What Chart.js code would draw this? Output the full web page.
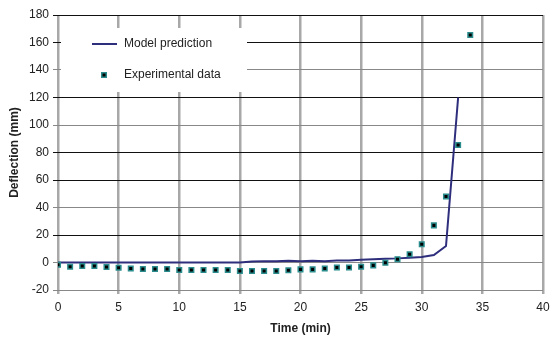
<!DOCTYPE html>
<html>
<head>
<meta charset="utf-8">
<script src="https://cdn.jsdelivr.net/npm/chart.js@4/dist/chart.umd.min.js"></script>
<style>
	html, body { margin: 0; padding: 0; background: white; }
	#wrap { width: 550px; height: 338px; position: relative; }
</style>
</head>
<body>
<div id="wrap"><canvas id="myChart"></canvas></div>
<script>
Chart.defaults.color = '#222';
Chart.defaults.font.family = "'Liberation Sans', Arial, sans-serif";
Chart.defaults.font.size = 12;


// DATA
// ================================================================
var modelTime = [0, 15, 16, 17, 18, 19, 20, 21, 22, 23, 24, 25, 26, 27, 28, 29, 30, 31, 32, 33];
var modelDefl = [0, 0, 0.8, 1, 1, 1.2, 1, 1.3, 1, 1.5, 1.5, 2, 2.4, 2.8, 3, 3.5, 4, 5.5, 12, 120];

var expTime = [0, 1, 2, 3, 4, 5, 6, 7, 8, 9, 10, 11, 12, 13, 14, 15, 16, 17, 18,
	19, 20, 21, 22, 23, 24, 25, 26, 27, 28, 29, 30, 31, 32, 33, 34];
var expDefl = [-1.7, -3.1, -2.6, -2.6, -3.3, -3.8, -4.3, -4.8, -4.8, -4.8, -5.5, -5.5, -5.5, -5.5, -5.5, -6.2, -6.2, -6.2, -6.2,
	-5.7, -5, -5, -4.3, -3.6, -3.6, -3.1, -2.1, -0.2, 2.4, 6, 13.3, 27, 48, 85.5, 165.5];

var seriesNames = ['Model prediction', 'Experimental data'];

// dark / light look of the horizontal grid lines, top to bottom
var darkRows = [180, 160, 120, 80, 60, 20];

function pairs(xs, ys) {
	return xs.map(function (x, i) { return { x: x, y: ys[i] }; });
}

var data = {
	datasets: [
		{
			type: 'line',
			label: seriesNames[0],
			data: pairs(modelTime, modelDefl),
			borderColor: '#2e2e7c',
			borderWidth: 2,
			pointRadius: 0,
			tension: 0,
			order: 2
		},
		{
			type: 'scatter',
			label: seriesNames[1],
			data: pairs(expTime, expDefl),
			pointStyle: 'rect',
			pointRadius: 3.2,
			backgroundColor: '#000',
			borderColor: '#2a8c8c',
			borderWidth: 1.5,
			order: 1
		}
	]
};


// Plugins
// ================================================================
// legend sits inside the plot area on a white box, like the Excel one
var boxLegend = {
	id: 'boxLegend',
	afterDatasetsDraw: function (chart) {
		var c = chart.ctx;
		var ds = chart.data.datasets;
		c.save();
		c.fillStyle = 'white';
		c.fillRect(61, 28, 186, 64);

		c.font = "12px 'Liberation Sans', Arial, sans-serif";
		c.textBaseline = 'middle';
		c.fillStyle = '#222';

		// line item
		c.strokeStyle = ds[0].borderColor;
		c.lineWidth = 2;
		c.beginPath();
		c.moveTo(92, 44);
		c.lineTo(117, 44);
		c.stroke();
		c.fillText(ds[0].label, 124, 44);

		// marker item
		c.fillStyle = ds[1].borderColor;
		c.fillRect(101, 72, 6, 6);
		c.fillStyle = '#000';
		c.fillRect(102.5, 73.5, 3, 3);
		c.fillStyle = '#222';
		c.fillText(ds[1].label, 124, 75);
		c.restore();
	}
};

var Plugins = {
	legend: { display: false },
	tooltip: { enabled: false }
};


// OPTIONS
// ================================================================
var options = {
	responsive: true,
	maintainAspectRatio: false,
	animation: false,
	plugins: Plugins,
	layout: { padding: { top: 15, right: 0, left: 7, bottom: 0 } },

	scales: {
		x: {
			type: 'linear',
			min: 0,
			max: 40,
			title: {
				display: true,
				text: 'Time (min)',
				font: { weight: 'bold', size: 12 },
				padding: { top: 5, bottom: 2 }
			},
			ticks: { stepSize: 5, padding: 6, maxRotation: 0 },
			grid: { color: '#a8a8a8', lineWidth: 2.5, tickLength: 4 },
			border: { display: false },
			afterFit: function (scale) {
				scale.height = 48;
				scale.paddingRight = 7;
			}
		},

		y: {
			min: -20,
			max: 180,
			title: {
				display: true,
				text: 'Deflection (mm)',
				font: { weight: 'bold', size: 12 },
				padding: { top: 0, bottom: 4 }
			},
			ticks: { stepSize: 20, padding: 4 },
			grid: {
				color: function (ctx) {
					var v = ctx.tick ? ctx.tick.value : 0;
					return darkRows.indexOf(v) >= 0 ? '#111' : '#888';
				},
				lineWidth: 1,
				tickLength: 5
			},
			border: { display: false },
			afterFit: function (scale) { scale.width = 51; }
		}
	}
};


// Create the chart
var ctx = document.getElementById('myChart').getContext('2d');
var Render = new Chart(ctx, {
	type: 'scatter',
	data: data,
	options: options,
	plugins: [boxLegend]
});
</script>
</body>
</html>
